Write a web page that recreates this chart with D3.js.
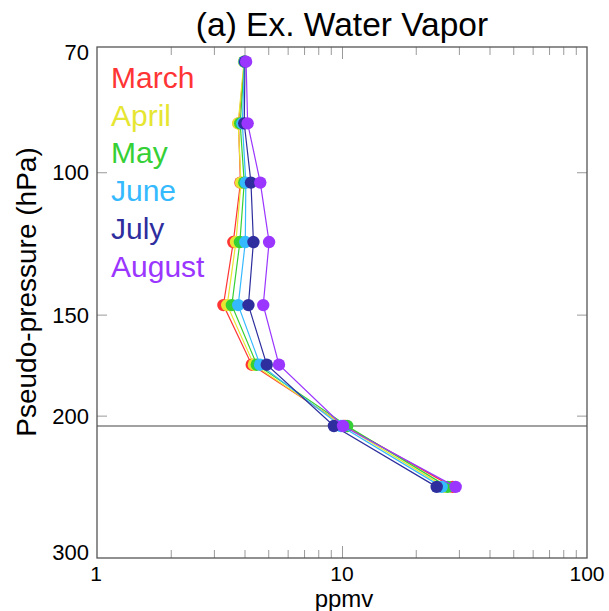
<!DOCTYPE html>
<html>
<head>
<meta charset="utf-8">
<script src="https://cdn.jsdelivr.net/npm/d3@7"></script>
<style>
  html, body { margin: 0; padding: 0; background: #fff; }
  svg { display: block; font-family: "Liberation Sans", Arial, Helvetica, sans-serif; }
</style>
</head>
<body>
<svg id="chart" width="609" height="611"></svg>
<script>
// ---- data ----
const months = ["March", "April", "May", "June", "July", "August"];
const monthColors = ["#ff3535", "#e6e632", "#35d035", "#35b9ff", "#2e2e9e", "#9a36ff"];
const pressureLevels = [73, 87, 103, 122, 146, 173, 206, 245];
const marchValues  = [4.00, 3.78, 3.85, 3.60, 3.28, 4.28, 10.3, 28.3];
const aprilValues  = [3.98, 3.77, 3.87, 3.69, 3.40, 4.37, 10.2, 26.2];
const mayValues    = [4.00, 3.84, 3.99, 3.83, 3.55, 4.49, 10.5, 27.0];
const juneValues   = [4.00, 3.92, 4.05, 4.03, 3.77, 4.63, 9.9, 25.5];
const julyValues   = [4.02, 3.99, 4.25, 4.35, 4.15, 4.93, 9.27, 24.35];
const augustValues = [4.06, 4.12, 4.64, 5.04, 4.77, 5.53, 10.1, 29.1];
const seriesValues = [marchValues, aprilValues, mayValues, juneValues, julyValues, augustValues];
const tropopause = 206;
const xTickLabels = [1, 10, 100];
const yTickLabels = [70, 100, 150, 200, 300];
const yInnerTicks = [100, 150, 200];
const titleText = "(a) Ex. Water Vapor";
const xLabelText = "ppmv";
const yLabelText = "Pseudo-pressure (hPa)";

// ---- layout ----
const L = 97, R = 587, T = 47, B = 558;
const svg = d3.select("#chart");
const x = d3.scaleLog().domain([1, 100]).range([L, R]);
const y = d3.scaleLog().domain([70, 300]).range([T, B]);

const minorX = x.ticks().filter(v => xTickLabels.indexOf(v) < 0);
const majorX = [10];

function tickAxis(axisFn, vals, size, tr) {
  const g = svg.append("g").attr("transform", tr)
    .call(axisFn.tickValues(vals).tickSize(size).tickFormat(""));
  g.select(".domain").remove();
  g.selectAll(".tick line").attr("stroke", "#9a9a9a").attr("stroke-width", 1);
  return g;
}
tickAxis(d3.axisBottom(x), minorX, -8, `translate(0,${B})`);
tickAxis(d3.axisBottom(x), majorX, -12, `translate(0,${B})`);
tickAxis(d3.axisTop(x), minorX, -8, `translate(0,${T})`);
tickAxis(d3.axisTop(x), majorX, -12, `translate(0,${T})`);
tickAxis(d3.axisLeft(y), yInnerTicks, -10, `translate(${L},0)`);
tickAxis(d3.axisRight(y), yInnerTicks, -10, `translate(${R},0)`);

// tropopause line
svg.append("line")
  .attr("x1", L).attr("x2", R)
  .attr("y1", y(tropopause)).attr("y2", y(tropopause))
  .attr("stroke", "#444").attr("stroke-width", 1.2);

// series
const line = d3.line().x(d => x(d[0])).y(d => y(d[1]));
seriesValues.forEach((vals, i) => {
  const pts = vals.map((v, j) => [v, pressureLevels[j]]);
  const g = svg.append("g");
  g.append("path").attr("d", line(pts))
    .attr("fill", "none").attr("stroke", monthColors[i]).attr("stroke-width", 1.2);
  g.selectAll("circle").data(pts).enter().append("circle")
    .attr("cx", d => x(d[0])).attr("cy", d => y(d[1]))
    .attr("r", 6.2).attr("fill", monthColors[i]);
});

// frame
svg.append("rect").attr("x", L).attr("y", T).attr("width", R - L).attr("height", B - T)
  .attr("fill", "none").attr("stroke", "#555").attr("stroke-width", 1.3);

// y tick labels
const yLabOffset = {70: 5, 300: -6};
svg.append("g").selectAll("text").data(yTickLabels).enter().append("text")
  .attr("x", 89).attr("y", d => y(d) + (yLabOffset[d] || 0) + 8)
  .attr("text-anchor", "end").attr("font-size", 22).attr("fill", "#000")
  .text(d => d);

// x tick labels
svg.append("g").selectAll("text").data(xTickLabels).enter().append("text")
  .attr("x", d => x(d) - (d === 1 ? 1 : 0)).attr("y", 581)
  .attr("text-anchor", "middle").attr("font-size", 21).attr("fill", "#000")
  .text(d => d);

// axis titles
svg.append("text").attr("x", 344).attr("y", 607).attr("text-anchor", "middle")
  .attr("font-size", 24).attr("fill", "#000").text(xLabelText);
svg.append("text").attr("transform", "translate(36,292) rotate(-90)")
  .attr("text-anchor", "middle").attr("font-size", 28).attr("fill", "#000").text(yLabelText);

// title
svg.append("text").attr("x", 342).attr("y", 36).attr("text-anchor", "middle")
  .attr("font-size", 33.5).attr("fill", "#000").text(titleText);

// legend
svg.append("g").selectAll("text").data(months).enter().append("text")
  .attr("x", 111).attr("y", (d, i) => 88 + i * 37.7)
  .attr("font-size", 30).attr("fill", (d, i) => monthColors[i])
  .text(d => d);
</script>
</body>
</html>
